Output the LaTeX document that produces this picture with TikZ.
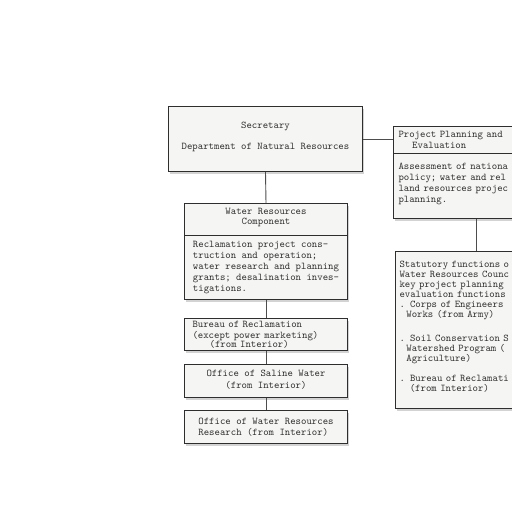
\documentclass[tikz,border=0pt]{standalone}
\usetikzlibrary{shadows}

\definecolor{inkgray}{HTML}{2E2E2E}
\definecolor{papergray}{HTML}{F5F5F3}

\begin{document}
\begin{tikzpicture}[x=1pt, y=-1pt,
  orgbox/.style={draw=inkgray, line width=1pt, fill=papergray, text=inkgray, anchor=north west,
    inner sep=0pt, font=\fontsize{10.3}{11}\selectfont\ttfamily,
    drop shadow={shadow xshift=1.5pt, shadow yshift=-2pt, opacity=0.35}},
  link/.style={draw=inkgray!85, line width=0.9pt}]

\useasboundingbox (0,0) rectangle (512,512);
\clip (0,0) rectangle (512,512);

% left column
\node[orgbox, minimum width=194pt, minimum height=65pt, align=center](sec) at (168,106) {Secretary\\[10pt]Department of Natural Resources\\[-5pt]\mbox{}};

\node[orgbox, minimum width=163pt, minimum height=32pt, align=center](wrhead) at (184,203) {Water Resources\\[-1pt]Component\\[-5pt]\mbox{}};
\node[orgbox, minimum width=163pt, minimum height=64pt, align=left](wrbody) at (184,235) {Reclamation project cons-\\truction and operation;\\water research and planning\\grants; desalination inves-\\tigations.};

\node[orgbox, text width=147pt, inner xsep=8pt, minimum height=32pt, align=left](bureau) at (184,318) {Bureau of Reclamation\\(except power marketing)\\[-2pt]~~~~~(from Interior)};
\node[orgbox, minimum width=163pt, minimum height=33pt, align=center](saline) at (184,364) {Office of Saline Water\\[1pt](from Interior)\\[-7pt]\mbox{}};
\node[orgbox, minimum width=163pt, minimum height=33pt, align=left](owrr) at (184,410) {Office of Water Resources\\Research (from Interior)};

% right column
\node[orgbox, text width=156pt, inner xsep=5pt, minimum height=27pt, align=left](pphead) at (393,126) {Project Planning and\\~~~~Evaluation};
\node[orgbox, text width=156pt, inner xsep=5pt, minimum height=65pt, align=left](ppbody) at (393,153) {Assessment of nationa\\policy; water and rel\\land resources projec\\planning.\\[-4pt]\mbox{}};

\node[orgbox, text width=154pt, inner xsep=4pt, minimum height=157pt, align=left,
  font=\fontsize{10.3}{10}\selectfont\ttfamily](statute) at (395,251) {Statutory functions o\\Water Resources Counc\\key project planning\\evaluation functions\\. Corps of Engineers\\~~Works (from Army)\\[14pt]. Soil Conservation S\\~~Watershed Program (\\~~Agriculture)\\[10pt]. Bureau of Reclamati\\~~~(from Interior)\\[-2pt]\mbox{}};

% connectors
\draw[link] (sec.south) -- (wrhead.north);
\draw[link] (sec.east) -- (sec.east -| pphead.west);
\draw[link] (wrbody.south) -- (bureau.north);
\draw[link] (bureau.south) -- (saline.north);
\draw[link] (saline.south) -- (owrr.north);
\draw[link] (ppbody.south) -- (statute.north);
\end{tikzpicture}
\end{document}
